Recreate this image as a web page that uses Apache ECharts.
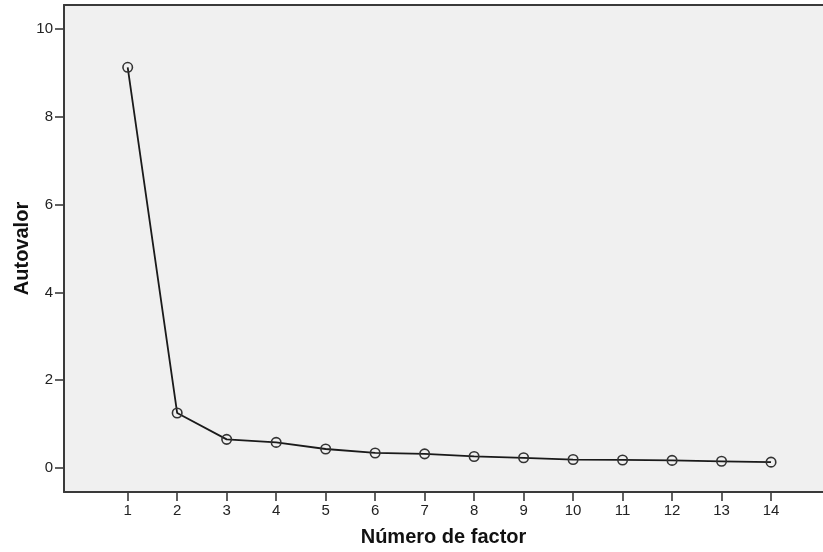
<!DOCTYPE html>
<html>
<head>
<meta charset="utf-8">
<script src="https://cdn.jsdelivr.net/npm/echarts@6/dist/echarts.min.js"></script>
<style>html,body{margin:0;padding:0;background:#fff}#c{width:823px;height:552px}</style>
</head>
<body>
<div id="c"></div>
<script>
var factors = [1,2,3,4,5,6,7,8,9,10,11,12,13,14];
var eigenvalues = [9.13,1.25,0.65,0.58,0.43,0.34,0.32,0.26,0.23,0.19,0.18,0.17,0.15,0.13];
var yTicks = [0,2,4,6,8,10];
var xTicks = factors;

var chart = echarts.init(document.getElementById('c'));
chart.setOption({
  animation:false,
  grid:{left:64,right:0,top:5,bottom:59,show:true,backgroundColor:'#f0f0f0',borderWidth:0},
  xAxis:[{
    type:'value',min:-0.287,max:15.05,
    name:'Número de factor',nameLocation:'middle',nameGap:35,nameMoveOverlap:false,
    nameTextStyle:{fontFamily:'Liberation Sans',fontSize:20,fontWeight:'bold',color:'#111'},
    axisLine:{show:true,onZero:false,lineStyle:{color:'#3a3a3a',width:2}},
    axisTick:{show:true,length:9,customValues:xTicks,lineStyle:{color:'#3a3a3a',width:1.6}},
    axisLabel:{customValues:xTicks,fontFamily:'Liberation Sans',fontSize:15,color:'#222',margin:11},
    splitLine:{show:false}
  },{
    type:'value',position:'top',min:-0.287,max:15.05,
    axisLine:{show:true,onZero:false,lineStyle:{color:'#3a3a3a',width:2}},
    axisTick:{show:false},axisLabel:{show:false},splitLine:{show:false}
  }],
  yAxis:{
    type:'value',min:-0.55,max:10.55,
    name:'Autovalor',nameLocation:'middle',nameGap:32,nameRotate:90,nameMoveOverlap:false,
    nameTextStyle:{fontFamily:'Liberation Sans',fontSize:20,fontWeight:'bold',color:'#111'},
    axisLine:{show:true,onZero:false,lineStyle:{color:'#3a3a3a',width:2}},
    axisTick:{show:true,length:9,customValues:yTicks,lineStyle:{color:'#3a3a3a',width:1.6}},
    axisLabel:{customValues:yTicks,fontFamily:'Liberation Sans',fontSize:15,color:'#222',margin:11},
    splitLine:{show:false}
  },
  series:[{
    type:'line',
    data:factors.map(function(f,i){return [f,eigenvalues[i]];}),
    symbol:'circle',symbolSize:9.5,
    itemStyle:{color:'rgba(0,0,0,0)',borderColor:'#333',borderWidth:1.6},
    lineStyle:{color:'#1a1a1a',width:1.8},
    emphasis:{disabled:true}
  }]
});
</script>
</body>
</html>
